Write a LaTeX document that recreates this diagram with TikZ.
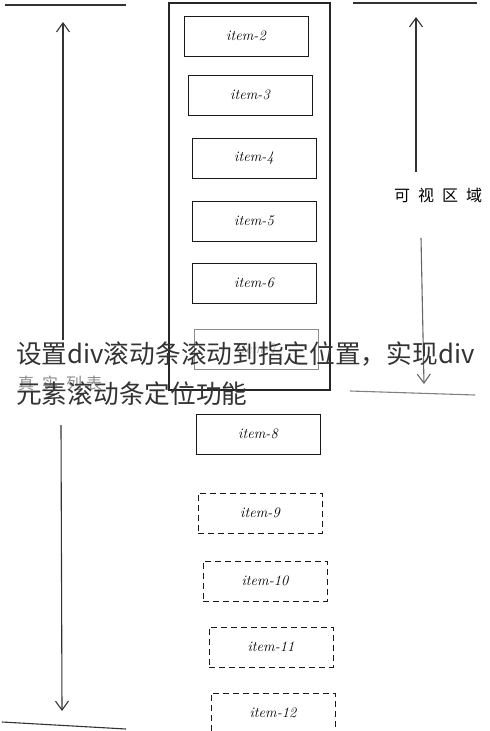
\documentclass[tikz,border=0pt]{standalone}
\usepackage{fontspec}
\newfontfamily\cjk{Noto Sans CJK SC}
\usetikzlibrary{arrows.meta,positioning}
\tikzset{
  item/.style={draw=black!90, line width=1pt, minimum width=124pt, minimum height=40pt, inner sep=0pt, font=\fontsize{14.5}{16}\selectfont\itshape},
  ghost/.style={item, dash pattern=on 6pt off 4pt},
  frame/.style={draw=black!85, line width=1.2pt, minimum width=161pt, minimum height=387pt},
  sketch/.style={draw=black!80, line width=1.1pt},
  arr/.style={sketch, -{Straight Barb[length=9pt,width=13pt]}},
  note/.style={font=\cjk\fontsize{16}{18}\selectfont},
  title/.style={anchor=west, inner sep=0pt, text=black!80, font=\cjk\fontsize{25.7}{30}\selectfont},
}

\begin{document}
\begin{tikzpicture}[x=1pt, y=-1pt]
\useasboundingbox (0,0) rectangle (490,731);
% scroll container
\node[frame] (list) at (249.5,196.5) {};
% items
\node[item] (i2) at (246,36) {item-2};
\node[item, below=18pt of i2, xshift=4pt] (i3) {item-3};
\node[item, below=22pt of i3, xshift=4pt] (i4) {item-4};
\node[item, below=22pt of i4] (i5) {item-5};
\node[item, below=21pt of i5] (i6) {item-6};
\node[item, below=25pt of i6, xshift=2pt, draw=black!45, text=black!35] (i7) {item-7};
\node[item, below=44pt of i7, xshift=2pt] (i8) {item-8};
\node[ghost, below=38pt of i8, xshift=2pt] (i9) {item-9};
\node[ghost, below=27pt of i9, xshift=5pt] (i10) {item-10};
\node[ghost, below=25pt of i10, xshift=6pt] (i11) {item-11};
\node[ghost, below=25pt of i11, xshift=2pt] (i12) {item-12};
% real list (left)
\coordinate (lt1) at (5,5);
\coordinate (lt2) at (126,5);
\coordinate (lb1) at (2,722);
\coordinate (lb2) at (126,729);
\coordinate (lu1) at (63,340);
\coordinate (lu2) at (63,22);
\coordinate (ld1) at (61,425);
\coordinate (ld2) at (62,711);
\node[note, text=black!45] (real) at (60,383) {真\hspace{8pt}实\hspace{8pt}列\hspace{4pt}表};
\draw[sketch] (lt1) -- (lt2);
\draw[sketch] (lb1) -- (lb2);
\draw[arr] (lu1) -- (lu2);
\draw[arr] (ld1) -- (ld2);
% visible area (right)
\coordinate (rt1) at (353,3);
\coordinate (rt2) at (477,3);
\coordinate (rb1) at (350,391);
\coordinate (rb2) at (475,395);
\coordinate (ru1) at (416,172);
\coordinate (ru2) at (416,17);
\coordinate (rd1) at (421,238);
\coordinate (rd2) at (424,384);
\node[note] (view) at (438,195) {可\hspace{8pt}视\hspace{8pt}区\hspace{8pt}域};
\draw[sketch] (rt1) -- (rt2);
\draw[sketch, draw=black!50] (rb1) -- (rb2);
\draw[arr] (ru1) -- (ru2);
\draw[arr, draw=black!60] (rd1) -- (rd2);
% title
\node[title] (t1) at (16,354) {设置div滚动条滚动到指定位置，实现div};
\node[title] (t2) at (16,394) {元素滚动条定位功能};
\end{tikzpicture}
\end{document}
